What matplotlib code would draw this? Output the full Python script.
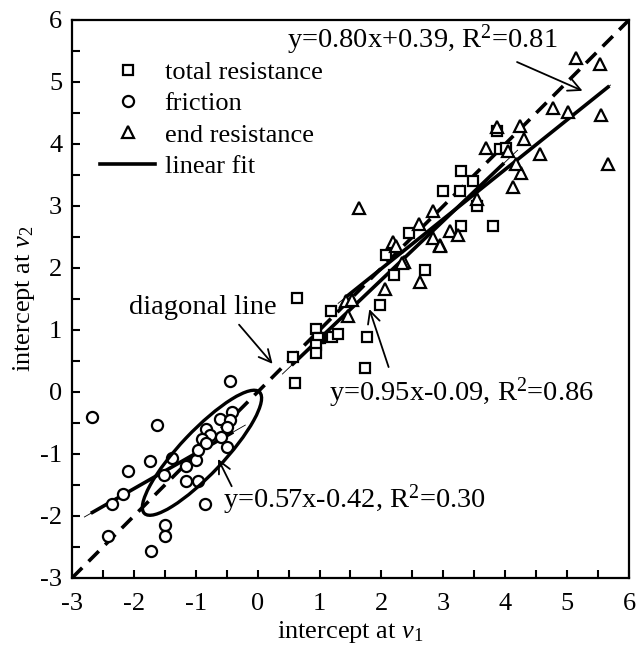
import numpy as np
import matplotlib
matplotlib.use("Agg")
import matplotlib.pyplot as plt
from matplotlib.patches import Ellipse

plt.rcParams['font.family'] = 'Liberation Serif'
plt.rcParams['mathtext.fontset'] = 'custom'
plt.rcParams['mathtext.rm'] = 'Liberation Serif'
plt.rcParams['mathtext.it'] = 'Liberation Serif:italic'
plt.rcParams['axes.unicode_minus'] = False
plt.rcParams['font.size'] = 19

# total resistance (squares)
tot_x = [0.63, 1.19, 0.94, 1.01, 0.97, 1.20, 1.30, 0.95, 0.95, 0.57, 0.60, 1.76, 1.74,
         1.98, 2.21, 2.08, 2.70, 2.45, 3.28, 3.48, 2.99, 3.27, 3.54, 3.81, 3.28,
         3.92, 4.02, 3.86]
tot_y = [1.52, 1.31, 1.01, 0.87, 0.87, 0.89, 0.94, 0.76, 0.63, 0.57, 0.14, 0.88, 0.38,
         1.41, 1.88, 2.21, 1.96, 2.56, 3.57, 3.41, 3.24, 3.24, 3.00, 2.68, 2.68,
         3.92, 3.94, 4.21]

# friction (circles)
fri_x = [-2.67, -1.62, -1.74, -2.10, -1.38, -1.51, -2.17, -2.36, -2.42, -1.50, -1.50,
         -1.73, -0.85, -1.16, -1.16, -0.96, -1.00, -0.96, -0.84, -0.77, -0.90, -0.83,
         -0.61, -0.42, -0.45, -0.50, -0.59, -0.50, -0.45]
fri_y = [-0.41, -0.53, -1.11, -1.27, -1.07, -1.34, -1.65, -1.80, -2.33, -2.15, -2.33,
         -2.56, -1.80, -1.44, -1.19, -1.44, -1.09, -0.93, -0.60, -0.69, -0.76, -0.83,
         -0.44, -0.33, -0.45, -0.57, -0.72, -0.89, 0.18]

# end resistance (triangles)
end_x = [1.43, 1.52, 1.46, 2.06, 2.37, 2.62, 2.18, 2.24, 2.95, 1.64, 2.84, 2.60, 3.11,
         3.24, 3.55, 2.34, 2.83, 2.94, 3.69, 3.86, 4.24, 4.30, 4.05, 4.56, 4.26, 4.13,
         4.17, 4.77, 5.02, 5.14, 5.53, 5.54, 5.66]
end_y = [1.47, 1.48, 1.23, 1.66, 2.10, 1.78, 2.42, 2.36, 2.37, 2.96, 2.92, 2.71, 2.60,
         2.53, 3.12, 2.08, 2.48, 2.35, 3.94, 4.28, 4.29, 4.08, 3.89, 3.84, 3.53, 3.31,
         3.68, 4.58, 4.52, 5.38, 5.29, 4.47, 3.68]

# fits: slope, intercept, thick range, thin range
fits = {
    'total': (0.95, -0.09, (0.57, 3.96), (0.40, 4.20)),
    'friction': (0.57, -0.42, (-2.67, -0.42), (-2.80, -0.20)),
    'end': (0.80, 0.39, (1.43, 5.66), (1.30, 5.70)),
}

fig = plt.figure(figsize=(6.36, 6.49), dpi=100)
ax = fig.add_axes([72 / 636, 71 / 649, 557 / 636, 558 / 649])

# diagonal
d = np.array([-3, 6])
ax.plot(d, d, color='black', lw=2.6, ls=(0, (4, 2.5)), zorder=2)

for name, (a, b, thick, thin) in fits.items():
    xs = np.array(thin)
    ax.plot(xs, a * xs + b, color='black', lw=0.6, zorder=2)
    xs = np.array(thick)
    ax.plot(xs, a * xs + b, color='black', lw=2.6, zorder=3)

mk = dict(ls='none', mfc='white', mec='black', mew=1.6, zorder=4)
ax.plot(tot_x, tot_y, marker='s', ms=6.5, label='total resistance', **mk)
ax.plot(fri_x, fri_y, marker='o', ms=8, label='friction', **mk)
ax.plot(end_x, end_y, marker='^', ms=8.5, label='end resistance', **mk)
ax.plot([], [], color='black', lw=2.6, label='linear fit')

ax.add_patch(Ellipse((-0.90, -0.98), 2.7, 0.70, angle=46.5, fill=False,
                     ec='black', lw=2.4, zorder=5))

# annotations: text + separate arrow
fs = 20.5
arr = dict(arrowstyle='->', color='black', lw=1.3, mutation_scale=22)
ax.text(0.47, 5.68, 'y=0.80x+0.39, R$^2$=0.81', ha='left', va='center', fontsize=fs)
ax.annotate('', xy=(5.29, 4.84), xytext=(4.15, 5.34), arrowprops=arr)

ax.text(-0.88, 1.37, 'diagonal line', ha='center', va='center', fontsize=fs)
ax.annotate('', xy=(0.27, 0.42), xytext=(-0.33, 1.12), arrowprops=arr)

ax.text(1.16, -0.02, 'y=0.95x-0.09, R$^2$=0.86', ha='left', va='center', fontsize=fs)
ax.annotate('', xy=(1.79, 1.38), xytext=(2.13, 0.36), arrowprops=arr)

ax.text(-0.56, -1.74, 'y=0.57x-0.42, R$^2$=0.30', ha='left', va='center', fontsize=fs)
ax.annotate('', xy=(-0.66, -1.04), xytext=(-0.40, -1.56), arrowprops=arr)

ax.set_xlim(-3, 6)
ax.set_ylim(-3, 6)
ax.set_xticks(np.arange(-3, 7, 1))
ax.set_yticks(np.arange(-3, 7, 1))
ax.set_xticks(np.arange(-2.5, 6, 1), minor=True)
ax.set_yticks(np.arange(-2.5, 6, 1), minor=True)
ax.tick_params(which='both', direction='in', length=6, width=1.5,
               top=False, right=False)
ax.tick_params(axis='x', which='major', pad=11)
ax.tick_params(axis='y', which='major', pad=7)
for s in ax.spines.values():
    s.set_linewidth(1.6)

ax.set_xlabel('intercept at $v_1$', labelpad=3)
ax.set_ylabel('intercept at $v_2$', labelpad=2)

ax.legend(loc='upper left', bbox_to_anchor=(0.05, 0.9275), frameon=False,
          handlelength=2.1, handletextpad=0.35, labelspacing=0.30,
          borderpad=0, borderaxespad=0)

fig.savefig('out.png', dpi=100)
